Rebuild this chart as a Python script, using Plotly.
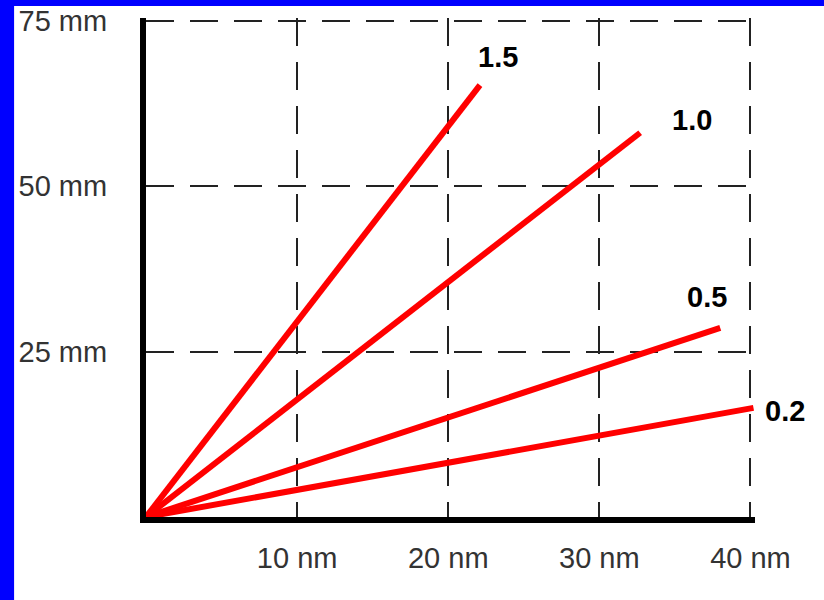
import plotly.graph_objects as go

# Series: each line runs from the origin to its end point
series_names = ["1.5", "1.0", "0.5", "0.2"]
end_x_nm = [22.1, 32.7, 38.0, 40.2]
end_y_mm = [65.3, 58.1, 28.6, 16.5]

# Label positions for the first three series (the last sits just right of its line end)
label_x_nm = [23.3, 36.1, 37.1, 40.2]
label_y_mm = [69.6, 60.0, 33.3, 16.0]

# Axis ticks
x_tick_vals = [10, 20, 30, 40]
x_tick_text = ["10 nm", "20 nm", "30 nm", "40 nm"]
y_tick_vals = [25, 50, 75]
y_tick_text = ["25 mm", "50 mm", "75 mm"]

fig = go.Figure()

for name, ex, ey in zip(series_names, end_x_nm, end_y_mm):
    fig.add_trace(go.Scatter(
        x=[0, ex], y=[0, ey], mode="lines", name=name,
        line=dict(color="#ff0000", width=6),
        hoverinfo="skip",
    ))

label_font = dict(family="Liberation Sans, Arial, sans-serif", size=29, color="#000000")
for i, (name, lx, ly) in enumerate(zip(series_names, label_x_nm, label_y_mm)):
    last = i == len(series_names) - 1
    fig.add_annotation(
        x=lx, y=ly, xref="x", yref="y", text="<b>" + name + "</b>",
        showarrow=False, font=label_font,
        xanchor="left" if last else "center",
        xshift=10 if last else 0,
    )

# Blue frame on the left and top edges
fig.add_shape(type="rect", xref="paper", yref="paper",
              x0=-0.5, x1=-0.2166, y0=-0.5, y1=1.5,
              fillcolor="#0000ff", line=dict(width=0), layer="above")
fig.add_shape(type="rect", xref="paper", yref="paper",
              x0=-0.5, x1=1.5, y0=1.024, y1=1.5,
              fillcolor="#0000ff", line=dict(width=0), layer="above")

tick_font = dict(family="Liberation Sans, Arial, sans-serif", size=29, color="#333333")

fig.update_xaxes(
    range=[0, 40.3], tickvals=x_tick_vals, ticktext=x_tick_text,
    showgrid=True, gridcolor="#222222", gridwidth=1.5, griddash="28px,16px",
    showline=True, linecolor="#000000", linewidth=6,
    zeroline=False, ticks="", tickfont=tick_font, ticklabelstandoff=10,
    layer="below traces", fixedrange=True, automargin=False,
)
fig.update_yaxes(
    range=[0, 75.45], tickvals=y_tick_vals, ticktext=y_tick_text,
    showgrid=True, gridcolor="#222222", gridwidth=1.5, griddash="28px,16px",
    showline=True, linecolor="#000000", linewidth=6,
    zeroline=False, ticks="", tickfont=tick_font, ticklabelstandoff=27,
    layer="below traces", fixedrange=True, automargin=False,
)

fig.update_layout(
    width=824, height=600,
    margin=dict(l=146, r=68.5, t=18, b=83, autoexpand=False),
    paper_bgcolor="#ffffff", plot_bgcolor="#ffffff",
    showlegend=False,
)

fig.write_html(
    "out.html",
    config={"displayModeBar": False},
    post_script="document.body.style.margin='0';document.body.style.overflow='hidden';",
)
